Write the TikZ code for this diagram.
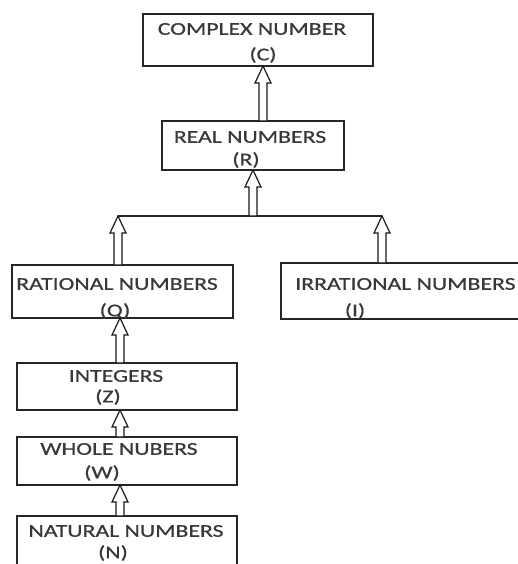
\documentclass[tikz,border=0pt]{standalone}
\usepackage{fontspec}
\setmainfont{Carlito}[FakeStretch=1.32,FakeBold=0.6]
\usetikzlibrary{calc}
\tikzset{
  box/.style={draw=black!85, line width=1.4pt, rectangle, inner sep=0pt, outer sep=0pt, fill=white},
  lbl/.style={inner sep=0pt, text=black!78, font=\fontsize{18pt}{20pt}\selectfont},
  hollow/.style={line width=1.2pt, draw=black!90, fill=white, to path={
    let \p1=(\tikztostart), \p2=(\tikztotarget) in
    (\x1-4pt,\y1) -- (\x1-4pt,\y2-17pt) -- (\x1-8pt,\y2-17pt) -- (\x1,\y2)
    -- (\x1+8pt,\y2-17pt) -- (\x1+4pt,\y2-17pt) -- (\x1+4pt,\y1) -- cycle}},
  joinline/.style={line width=1.3pt, draw=black!85}
}
\begin{document}
\begin{tikzpicture}[x=1pt,y=-1pt]
\fill[white] (0,0) rectangle (518,564);
\clip (0,0) rectangle (518,564);
% boxes
\node[box, minimum width=230pt, minimum height=52pt] (complex) at (258,40) {};
\node[box, minimum width=182pt, minimum height=49pt] (real) at (253,145.5) {};
\node[box, minimum width=221pt, minimum height=53pt] (rat) at (122.5,291.5) {};
\node[box, minimum width=244pt, minimum height=56pt] (irr) at (403,291) {};
\node[box, minimum width=220pt, minimum height=47pt] (int) at (127,386.5) {};
\node[box, minimum width=220pt, minimum height=48pt] (whole) at (127,461) {};
\node[box, minimum width=220pt, minimum height=64pt] (nat) at (127,548) {};
% labels
\node[lbl] (complexa) at (252,29) {COMPLEX NUMBER};
\node[lbl] (complexb) at (263,55) {(C)};
\node[lbl] (reala) at (250,137) {REAL NUMBERS};
\node[lbl] (realb) at (246,160) {(R)};
\node[lbl] (rata) at (117,284) {RATIONAL NUMBERS};
\node[lbl] (ratb) at (115,311) {(Q)};
\node[lbl, anchor=west] (irra) at (295,284) {IRRATIONAL NUMBERS};
\node[lbl] (irrb) at (355,311) {(I)};
\node[lbl] (inta) at (116,376) {INTEGERS};
\node[lbl] (intb) at (108,397) {(Z)};
\node[lbl] (wholea) at (119,449) {WHOLE NUBERS};
\node[lbl] (wholeb) at (102,473) {(W)};
\node[lbl] (nata) at (126,531) {NATURAL NUMBERS};
\node[lbl] (natb) at (113,553) {(N)};
% junction line
\coordinate (jl) at (118,216);
\coordinate (jm) at (253,216);
\coordinate (jr) at (382,216);
\draw[joinline] (jl) -- (jr);
% arrows
\draw[hollow] ([xshift=10pt]real.north) to (complex.south);
\draw[hollow] (jm) to (real.south);
\draw[hollow] (rat.north -| jl) to (jl);
\draw[hollow] (irr.north -| jr) to (jr);
\draw[hollow] ([xshift=-7pt]int.north) to (rat.south);
\draw[hollow] ([xshift=-7pt]whole.north) to (int.south);
\draw[hollow] ([xshift=-7pt]nat.north) to (whole.south);
\end{tikzpicture}
\end{document}
